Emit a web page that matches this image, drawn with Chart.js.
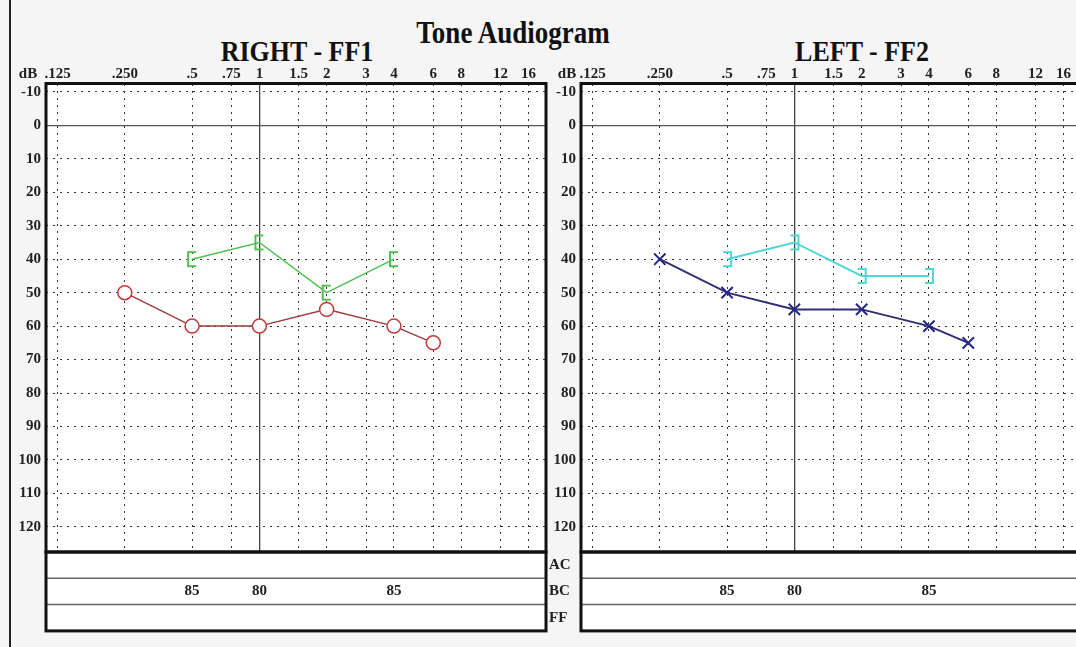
<!DOCTYPE html>
<html>
<head>
<meta charset="utf-8">
<title>Tone Audiogram</title>
<script src="https://cdn.jsdelivr.net/npm/chart.js@4.4.1/dist/chart.umd.min.js"></script>
<style>
  html, body { margin: 0; padding: 0; width: 1076px; height: 647px; overflow: hidden; background: #f5f5f5; }
  #page { position: relative; width: 1076px; height: 647px; }
  .edge { position: absolute; left: 9px; top: 0; width: 2px; height: 647px; background: #222; }
  .ttl { position: absolute; font-family: "Liberation Serif", "Times New Roman", serif; font-weight: bold;
         font-size: 26px; line-height: 26px; color: #111; white-space: nowrap; transform: translateX(-50%) scaleY(1.15); }
  canvas { position: absolute; top: 0; }
</style>
</head>
<body>
<div id="page">
  <div class="edge"></div>
  <div class="ttl" style="left:513px; top:20px; font-size:27px;">Tone Audiogram</div>
  <div class="ttl" style="left:297px; top:39px;">RIGHT - FF1</div>
  <div class="ttl" style="left:862px; top:39px;">LEFT - FF2</div>
  <canvas id="rightEar" width="548" height="647" style="left:0px"></canvas>
  <canvas id="leftEar" width="535" height="647" style="left:548px"></canvas>
</div>
<script>
// --- axis ticks ---
const freqTicks = [0.125, 0.25, 0.5, 0.75, 1, 1.5, 2, 3, 4, 6, 8, 12, 16];
const freqLabels = ['.125', '.250', '.5', '.75', '1', '1.5', '2', '3', '4', '6', '8', '12', '16'];
const dbTicks = [-10, 0, 10, 20, 30, 40, 50, 60, 70, 80, 90, 100, 110, 120];

// --- right ear (FF1) ---
const acRightFreqs = [0.25, 0.5, 1, 2, 4, 6];
const acRightDb = [50, 60, 60, 55, 60, 65];
const bcRightFreqs = [0.5, 1, 2, 4];
const bcRightDb = [40, 35, 50, 40];

// --- left ear (FF2) ---
const acLeftFreqs = [0.25, 0.5, 1, 2, 4, 6];
const acLeftDb = [40, 50, 55, 55, 60, 65];
const bcLeftFreqs = [0.5, 1, 2, 4];
const bcLeftDb = [40, 35, 45, 45];

// --- table below the graphs ---
const tableRows = ['AC', 'BC', 'FF'];
const tableFreqs = [0.5, 1, 4];
const bcRightTable = ['85', '80', '85'];
const bcLeftTable = ['85', '80', '85'];

const FONT = '"Liberation Serif", "Times New Roman", serif';
Chart.defaults.font.family = FONT;

const pts = (xs, ys) => xs.map((x, i) => ({ x: x, y: ys[i] }));

// bracket marker: '[' opens right, ']' opens left
function bracket(color, open) {
  const c = document.createElement('canvas');
  c.width = 22; c.height = 22;
  const g = c.getContext('2d');
  g.strokeStyle = color;
  g.lineWidth = 2;
  const s = open === 'right' ? 1 : -1;
  const xv = 11 - s * 4;
  g.beginPath();
  g.moveTo(xv + s * 8, 4); g.lineTo(xv, 4); g.lineTo(xv, 18); g.lineTo(xv + s * 8, 18);
  g.stroke();
  return c;
}

const ROW_H = 26.3;

// white plot background, frame, table and dB label
const framePlugin = {
  id: 'frame',
  beforeDraw(chart) {
    const { ctx, chartArea: a } = chart;
    ctx.save();
    ctx.fillStyle = '#ffffff';
    ctx.fillRect(a.left, a.top, a.right - a.left, a.bottom - a.top + ROW_H * 3);
    ctx.restore();
  },
  afterDraw(chart, args, opts) {
    const { ctx, chartArea: a } = chart;
    const x = chart.scales.x;
    ctx.save();
    // table row separators
    ctx.strokeStyle = '#666';
    ctx.lineWidth = 1.5;
    for (let i = 1; i < 3; i++) {
      ctx.beginPath();
      ctx.moveTo(a.left, a.bottom + ROW_H * i);
      ctx.lineTo(a.right, a.bottom + ROW_H * i);
      ctx.stroke();
    }
    // thick frames
    ctx.strokeStyle = '#111';
    ctx.lineWidth = 3;
    ctx.strokeRect(a.left, a.top, a.right - a.left, a.bottom - a.top);
    ctx.strokeRect(a.left, a.bottom, a.right - a.left, ROW_H * 3);

    ctx.font = 'bold 15px ' + FONT;
    ctx.fillStyle = '#222';
    ctx.textBaseline = 'middle';
    ctx.textAlign = 'center';
    opts.bc.forEach((v, i) => {
      ctx.fillText(v, x.getPixelForValue(tableFreqs[i]), a.bottom + ROW_H * 1.5);
    });
    ctx.fillText('dB', opts.dbX, 74);
    if (opts.rows) {
      ctx.textAlign = 'left';
      tableRows.forEach((r, i) => ctx.fillText(r, a.left - 32, a.bottom + ROW_H * (i + 0.5)));
    }
    ctx.restore();
  }
};

function makeAudiogram(id, datasets, pad, yWidth, tableVals, dbX, rows) {
  return new Chart(document.getElementById(id), {
    type: 'scatter',
    data: { datasets: datasets },
    options: {
      responsive: false,
      animation: false,
      devicePixelRatio: 1,
      layout: { padding: pad, autoPadding: false },
      plugins: {
        legend: { display: false },
        tooltip: { enabled: false },
        frame: { bc: tableVals, dbX: dbX, rows: rows }
      },
      scales: {
        x: {
          type: 'logarithmic',
          position: 'top',
          min: 0.111,
          max: 19.16,
          bounds: 'data',
          afterBuildTicks: s => { s.ticks = freqTicks.map(v => ({ value: v })); },
          afterFit: s => { s.height = 43.5; s.paddingLeft = 0; s.paddingRight = 0; },
          ticks: {
            autoSkip: false,
            maxRotation: 0,
            padding: 0,
            color: '#222',
            font: { size: 15, weight: 'bold' },
            callback: (v, i) => freqLabels[i]
          },
          grid: {
            drawTicks: false,
            lineWidth: ctx => (ctx.tick && ctx.tick.value === 1) ? 1.3 : 1,
            color: ctx => (ctx.tick && ctx.tick.value === 1) ? '#444' : '#333'
          },
          border: {
            display: false,
            dash: ctx => (ctx.tick && ctx.tick.value === 1) ? [] : [2, 5]
          }
        },
        y: {
          type: 'linear',
          reverse: true,
          min: -12.5,
          max: 127.5,
          bounds: 'data',
          afterBuildTicks: s => { s.ticks = dbTicks.map(v => ({ value: v })); },
          afterFit: s => { s.width = yWidth; s.paddingTop = 0; s.paddingBottom = 0; },
          ticks: {
            padding: 5,
            color: '#222',
            font: { size: 15, weight: 'bold' }
          },
          grid: {
            drawTicks: false,
            lineWidth: ctx => (ctx.tick && ctx.tick.value === 0) ? 1.3 : 1,
            color: ctx => (ctx.tick && ctx.tick.value === 0) ? '#555' : '#333'
          },
          border: {
            display: false,
            dash: ctx => (ctx.tick && ctx.tick.value === 0) ? [] : [2, 5]
          }
        }
      }
    },
    plugins: [framePlugin]
  });
}

makeAudiogram('rightEar', [
  {
    data: pts(bcRightFreqs, bcRightDb),
    showLine: true,
    borderColor: '#4fc24f',
    borderWidth: 1.5,
    pointStyle: bracket('#4fc24f', 'right'),
    pointRadius: 8
  },
  {
    data: pts(acRightFreqs, acRightDb),
    showLine: true,
    borderColor: '#9a3c3c',
    borderWidth: 1.5,
    pointStyle: 'circle',
    pointRadius: 7,
    pointBorderWidth: 1.5,
    pointBorderColor: '#c23a3a',
    pointBackgroundColor: '#ffffff'
  }
], { left: 10, right: 2, top: 40, bottom: 95 }, 36, bcRightTable, 28, false);

makeAudiogram('leftEar', [
  {
    data: pts(bcLeftFreqs, bcLeftDb),
    showLine: true,
    borderColor: '#4fd6d6',
    borderWidth: 2,
    pointStyle: bracket('#4fd6d6', 'left'),
    pointRadius: 8
  },
  {
    data: pts(acLeftFreqs, acLeftDb),
    showLine: true,
    borderColor: '#2e2e72',
    borderWidth: 2,
    pointStyle: 'crossRot',
    pointRadius: 8,
    pointBorderWidth: 2,
    pointBorderColor: '#262688'
  }
], { left: 0, right: 2, top: 40, bottom: 95 }, 33, bcLeftTable, 19, true);
</script>
</body>
</html>
